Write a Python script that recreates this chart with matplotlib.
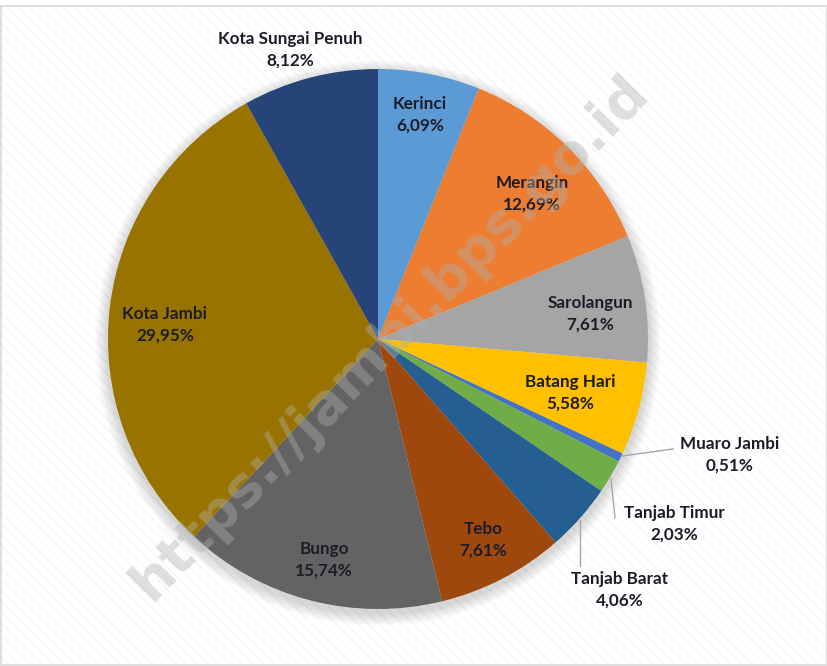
import matplotlib.pyplot as plt
from matplotlib.patches import Rectangle, Circle
import numpy as np

# data
regions = ['Kerinci', 'Merangin', 'Sarolangun', 'Batang Hari', 'Muaro Jambi',
           'Tanjab Timur', 'Tanjab Barat', 'Tebo', 'Bungo', 'Kota Jambi',
           'Kota Sungai Penuh']
shares = [6.09, 12.69, 7.61, 5.58, 0.51, 2.03, 4.06, 7.61, 15.74, 29.95, 8.12]
colors = ['#5B9BD5', '#ED7D31', '#A5A5A5', '#FFC000', '#4472C4', '#70AD47',
          '#255E91', '#9E480E', '#636363', '#997300', '#264478']

# label layout (pixel coords, y from top)
label_pos = [(420, 115), (532, 194), (590, 314), (570, 393), (730, 455),
             (674, 524), (620, 590), (483, 540), (324, 560), (165, 325),
             (290, 50)]
# leader lines for small outside slices
leaders = {
    'Muaro Jambi': [(622, 456), (673, 449)],
    'Tanjab Timur': [(611, 479), (615, 518)],
    'Tanjab Barat': [(580, 520), (580, 566)],
}

W, H = 828, 666
cx, cy, R = 378, 339, 270

fig = plt.figure(figsize=(W / 100, H / 100), dpi=100)
fig.patch.set_facecolor('white')
ax = fig.add_axes([0, 0, 1, 1])

# faint diagonal background stripes
plt.rcParams['hatch.linewidth'] = 0.6
ax.add_patch(Rectangle((0, 0), W, H - 6, facecolor='white', edgecolor='#f1f1f1',
                       hatch='\\\\\\', linewidth=0, zorder=0))
ax.add_patch(Rectangle((1, 1), W - 2, H - 7, facecolor='none', edgecolor='#d9d9d9',
                       linewidth=1.2, zorder=1))

# soft shadow under pie
for k in range(8):
    ax.add_patch(Circle((cx, H - cy - 4), R + 2 + k * 1.5, facecolor='#000000',
                        alpha=0.018, edgecolor='none', zorder=1))

wedges, _ = ax.pie(shares, colors=colors, startangle=90, counterclock=False,
                   center=(cx, H - cy), radius=R,
                   wedgeprops=dict(linewidth=0.5, edgecolor='none'))
for w in wedges:
    w.set_zorder(2)

ax.set_xlim(0, W)
ax.set_ylim(0, H)
ax.set_aspect('equal')
ax.axis('off')

for name, val, (x, y) in zip(regions, shares, label_pos):
    txt = name + '\n' + ('%.2f' % val).replace('.', ',') + '%'
    ax.text(x, H - y, txt, ha='center', va='center', fontsize=12.3,
            family='Lato', fontweight='bold', color='#1c1c28',
            linespacing=1.4, zorder=5)

for name, pts in leaders.items():
    xs = [p[0] for p in pts]
    ys = [H - p[1] for p in pts]
    ax.plot(xs, ys, color='#a6a6a6', linewidth=1.0, zorder=4)

# watermark
ax.text(390, H - 338, 'https://jambi.bps.go.id', rotation=45.5, ha='center',
        va='center', fontsize=40, family='DejaVu Sans', fontweight='bold',
        color='#b0b0b0', alpha=0.4, zorder=6)

fig.savefig('out.png', dpi=100)
